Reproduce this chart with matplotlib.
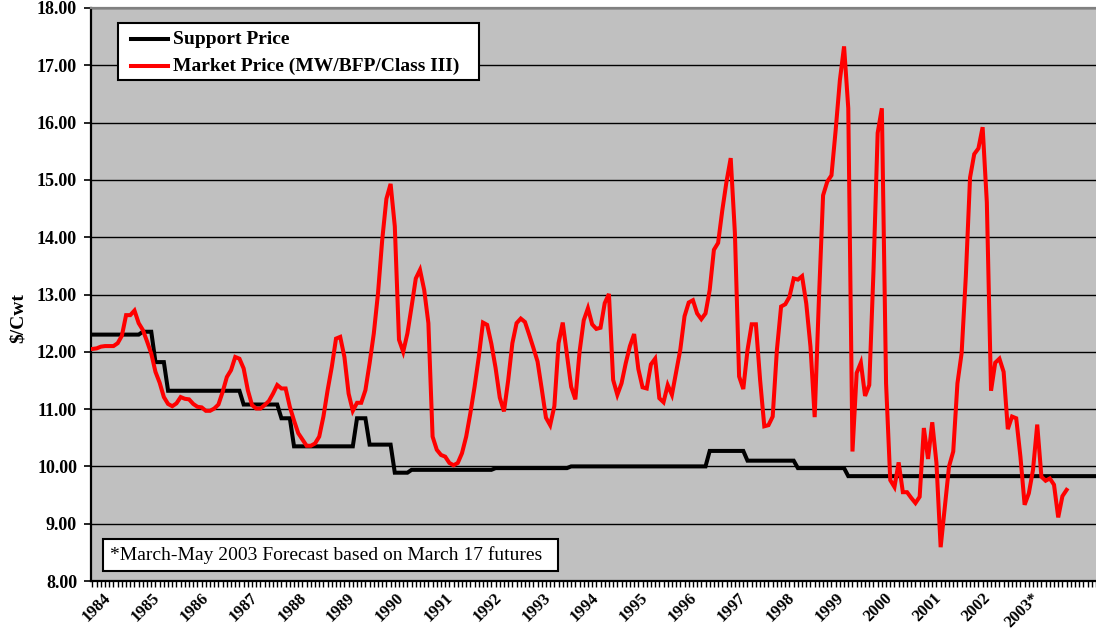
import numpy as np
import matplotlib
matplotlib.use("Agg")
import matplotlib.pyplot as plt
from matplotlib.patches import Rectangle
from matplotlib.lines import Line2D

# ---------------- data (monthly, Jan 1984 onward) ----------------
market_price = [
    # 1984
    12.05, 12.06, 12.09, 12.10, 12.10, 12.10, 12.15, 12.28, 12.64, 12.64, 12.72, 12.50,
    # 1985
    12.38, 12.18, 11.97, 11.65, 11.46, 11.21, 11.09, 11.05, 11.10, 11.21, 11.18, 11.17,
    # 1986
    11.09, 11.04, 11.03, 10.97, 10.97, 11.01, 11.08, 11.30, 11.56, 11.68, 11.91, 11.88,
    # 1987
    11.71, 11.33, 11.07, 11.01, 11.01, 11.07, 11.14, 11.27, 11.42, 11.36, 11.36, 11.04,
    # 1988
    10.80, 10.58, 10.47, 10.36, 10.36, 10.40, 10.52, 10.87, 11.33, 11.74, 12.23, 12.26,
    # 1989
    11.91, 11.27, 10.97, 11.11, 11.11, 11.33, 11.80, 12.32, 13.02, 13.95, 14.67, 14.93,
    # 1990
    14.19, 12.21, 12.00, 12.32, 12.79, 13.28, 13.43, 13.08, 12.50, 10.52, 10.29, 10.20,
    # 1991
    10.17, 10.06, 10.02, 10.06, 10.23, 10.52, 10.93, 11.39, 11.91, 12.51, 12.47, 12.14,
    # 1992
    11.72, 11.20, 10.96, 11.50, 12.15, 12.50, 12.58, 12.52, 12.30, 12.07, 11.83, 11.35,
    # 1993
    10.85, 10.72, 11.05, 12.15, 12.51, 11.95, 11.39, 11.17, 12.00, 12.55, 12.76, 12.48,
    # 1994
    12.40, 12.42, 12.85, 13.01, 11.51, 11.25, 11.45, 11.80, 12.10, 12.31, 11.70, 11.38,
    # 1995
    11.36, 11.78, 11.88, 11.19, 11.12, 11.42, 11.25, 11.65, 12.04, 12.62, 12.86, 12.90,
    # 1996
    12.67, 12.57, 12.67, 13.08, 13.78, 13.90, 14.47, 14.97, 15.38, 14.07, 11.57, 11.35,
    # 1997
    12.03, 12.48, 12.48, 11.51, 10.70, 10.72, 10.87, 12.03, 12.79, 12.83, 12.96, 13.28,
    # 1998
    13.26, 13.32, 12.84, 12.09, 10.86, 12.90, 14.73, 14.97, 15.08, 15.87, 16.74, 17.33,
    # 1999
    16.25, 10.26, 11.63, 11.81, 11.23, 11.42, 13.40, 15.82, 16.25, 11.45, 9.76, 9.64,
    # 2000
    10.07, 9.55, 9.55, 9.45, 9.36, 9.47, 10.67, 10.13, 10.77, 10.06, 8.59, 9.30,
    # 2001
    10.00, 10.26, 11.45, 11.98, 13.32, 15.04, 15.45, 15.55, 15.92, 14.61, 11.32, 11.81,
    # 2002
    11.88, 11.65, 10.65, 10.87, 10.84, 10.17, 9.33, 9.53, 9.94, 10.73, 9.82, 9.75,
    # 2003 (Mar-May forecast)
    9.79, 9.68, 9.11, 9.48, 9.59,
]

# support price: level and number of months it was in effect
support_levels = [12.30, 12.35, 11.82, 11.32, 11.08, 10.84, 10.35, 10.84, 10.38,
                  9.89, 9.94, 9.97, 10.00, 10.27, 10.10, 9.97, 9.83]
support_months = [12, 3, 3, 18, 9, 3, 15, 3, 6, 4, 20, 18, 33, 9, 12, 12, 60]

year_labels = ["1984", "1985", "1986", "1987", "1988", "1989", "1990", "1991",
               "1992", "1993", "1994", "1995", "1996", "1997", "1998", "1999",
               "2000", "2001", "2002", "2003*"]

y_ticks = [8, 9, 10, 11, 12, 13, 14, 15, 16, 17, 18]

legend_labels = ["Support Price", "Market Price (MW/BFP/Class III)"]
note_text = "*March-May 2003 Forecast based on March 17 futures"

# ---------------- figure ----------------
W, H = 1096, 641
SERIF = ["Liberation Serif", "DejaVu Serif"]
plt.rcParams["font.family"] = SERIF

fig = plt.figure(figsize=(W / 100, H / 100), dpi=100)
fig.patch.set_facecolor("white")

ax_l, ax_t, ax_b = 91, 8, 581
ax = fig.add_axes([ax_l / W, (H - ax_b) / H, (W - ax_l) / W, (ax_b - ax_t) / H])
ax.set_facecolor("#C0C0C0")

support = np.repeat(support_levels, support_months)
mp = np.array(market_price)
xm = np.arange(len(mp))
xs = np.arange(len(support))

px_per_month = 4.243
first_px = 92.5
x_left = -(first_px - ax_l) / px_per_month
ax.set_xlim(x_left, x_left + (W - ax_l) / px_per_month)
ax.set_ylim(8, 18)

ax.yaxis.grid(True, color="black", linewidth=1.0, zorder=1)
ax.set_axisbelow(True)

ax.plot(xs, support, color="black", linewidth=2.9, solid_joinstyle="miter", zorder=3)
ax.plot(xm, mp, color="#FF0000", linewidth=2.9, solid_joinstyle="miter", zorder=4)

# spines
ax.spines["right"].set_visible(False)
ax.spines["top"].set_color("#808080")
ax.spines["top"].set_linewidth(1.6)
ax.spines["left"].set_linewidth(1.6)
ax.spines["bottom"].set_linewidth(1.6)

# y axis
ax.set_yticks(y_ticks)
ax.set_yticklabels([f"{v:.2f}" for v in y_ticks], fontsize=13, fontweight="bold")
ax.tick_params(axis="y", direction="out", length=5, width=1.2, pad=5)
ax.set_ylabel("\\$/Cwt", fontsize=14, fontweight="bold")
ax.yaxis.set_label_coords((27 - ax_l) / (W - ax_l), (ax_b - 318) / (ax_b - ax_t))

# x axis: monthly tick marks, year labels
ax.set_xticks(np.arange(0, len(support)))
ax.tick_params(axis="x", direction="out", length=4.5, width=1.0, labelbottom=False)
label_px0, label_step_px = 103.0, 49.35
for k, lab in enumerate(year_labels):
    xd = x_left + (label_px0 + label_step_px * k - ax_l) / px_per_month
    ax.text(xd, -0.016, lab, transform=ax.get_xaxis_transform(),
            rotation=45, rotation_mode="anchor", ha="right", va="top",
            fontsize=12, fontweight="bold", clip_on=False)

# legend (drawn in figure pixels)
def fx(x):
    return x / W

def fy(y):
    return 1 - y / H

fig.patches.append(Rectangle((fx(118), fy(80)), fx(479) - fx(118), fy(23) - fy(80),
                             transform=fig.transFigure, facecolor="white",
                             edgecolor="black", linewidth=1.5, zorder=5))
for yrow, col, lab in [(39, "black", legend_labels[0]), (66, "#FF0000", legend_labels[1])]:
    fig.lines.append(Line2D([fx(131), fx(168)], [fy(yrow), fy(yrow)],
                            transform=fig.transFigure, color=col, linewidth=2.9, zorder=6))
    fig.text(fx(173), fy(yrow), lab, fontsize=14, fontweight="bold",
             ha="left", va="center", zorder=6)

# forecast note box
fig.patches.append(Rectangle((fx(103), fy(571)), fx(558) - fx(103), fy(539) - fy(571),
                             transform=fig.transFigure, facecolor="white",
                             edgecolor="black", linewidth=1.5, zorder=5))
fig.text(fx(110), fy(555), note_text, fontsize=14, ha="left", va="center", zorder=6)

fig.savefig("out.png", dpi=100)
